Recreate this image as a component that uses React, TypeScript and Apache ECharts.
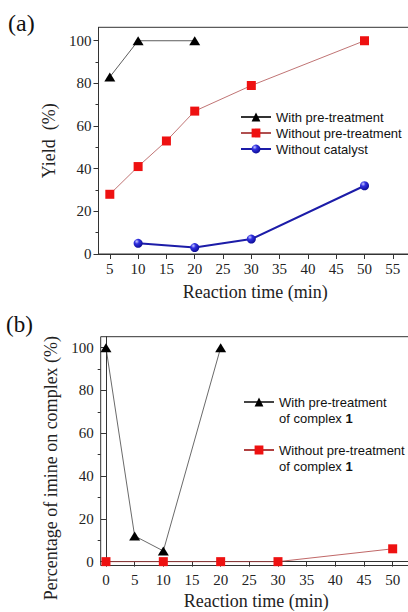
import React, { useEffect, useRef } from "react";
import * as echarts from "echarts";

// ---- Data: panel (a) ----
const aXTicks = [5, 10, 15, 20, 25, 30, 35, 40, 45, 50, 55];
const aYTicks = [0, 20, 40, 60, 80, 100];
const aYMinor = [10, 30, 50, 70, 90];
const aWithX = [5, 10, 20];
const aWithY = [83, 100, 100];
const aWithoutX = [5, 10, 15, 20, 30, 50];
const aWithoutY = [28, 41, 53, 67, 79, 100];
const aNoCatX = [10, 20, 30, 50];
const aNoCatY = [5, 3, 7, 32];

// ---- Data: panel (b) ----
const bXTicks = [0, 5, 10, 15, 20, 25, 30, 35, 40, 45, 50];
const bYTicks = [0, 20, 40, 60, 80, 100];
const bYMinor = [10, 30, 50, 70, 90];
const bWithX = [0, 5, 10, 20];
const bWithY = [100, 12, 5, 100];
const bWithoutX = [0, 10, 20, 30, 50];
const bWithoutY = [0, 0, 0, 0, 6];

const zip = (xs: number[], ys: number[]) => xs.map((x, i) => [x, ys[i]]);

const SERIF = "'Liberation Serif', 'Times New Roman', Times, serif";
const SANS = "'Liberation Sans', Arial, sans-serif";

export default function App() {
  const ref = useRef<HTMLDivElement>(null);
  useEffect(() => {
    const chart = echarts.init(ref.current!, null, { renderer: "svg" });
    const sphere = new echarts.graphic.RadialGradient(0.35, 0.3, 0.75, [
      { offset: 0, color: "#c8c8ff" },
      { offset: 0.35, color: "#3030e0" },
      { offset: 1, color: "#0a0a90" },
    ]);
    const xAxisBase = (gridIndex: number, min: number, max: number, ticks: number[], gap: number) => ({
      type: "value",
      gridIndex,
      min,
      max,
      axisLine: { show: true, lineStyle: { color: "#333", width: 1 } },
      axisTick: { show: true, length: 5, customValues: ticks, lineStyle: { color: "#333" } },
      axisLabel: {
        customValues: ticks,
        fontFamily: SERIF,
        fontSize: 15,
        color: "#222",
        margin: 7,
      },
      splitLine: { show: false },
      name: "Reaction time (min)",
      nameLocation: "middle",
      nameGap: gap,
      nameTextStyle: { fontFamily: SERIF, fontSize: 18, color: "#222" },
    });
    const yAxisBase = (gridIndex: number, min: number, max: number, ticks: number[]) => ({
      type: "value",
      gridIndex,
      min,
      max,
      axisLine: { show: true, lineStyle: { color: "#333", width: 1 } },
      axisTick: { show: true, length: 5, customValues: ticks, lineStyle: { color: "#333" } },
      axisLabel: {
        customValues: ticks,
        fontFamily: SERIF,
        fontSize: 15,
        color: "#222",
        margin: 7,
      },
      splitLine: { show: false },
    });
    const yMinorAxis = (gridIndex: number, min: number, max: number, ticks: number[]) => ({
      type: "value",
      gridIndex,
      min,
      max,
      position: "left",
      axisLine: { show: false },
      axisTick: { show: true, length: 3, customValues: ticks, lineStyle: { color: "#333" } },
      axisLabel: { show: false },
      splitLine: { show: false },
    });

    chart.setOption({
      animation: false,
      backgroundColor: "#fff",
      grid: [
        {
          left: 98.5, top: 27.3, width: 313.5, height: 226.7,
          show: true, borderColor: "#333", borderWidth: 1,
          outerBoundsMode: "none", containLabel: false,
        },
        {
          left: 100.7, top: 336.7, width: 311.3, height: 228.8,
          show: true, borderColor: "#333", borderWidth: 1,
          outerBoundsMode: "none", containLabel: false,
        },
      ],
      xAxis: [xAxisBase(0, 3, 58.39, aXTicks, 29), xAxisBase(1, -0.92, 53.37, bXTicks, 26)],
      yAxis: [
        {
          ...yAxisBase(0, 0, 106.3, aYTicks),
          name: "Yield  (%)",
          nameLocation: "middle",
          nameGap: 35,
          nameTextStyle: { fontFamily: SERIF, fontSize: 18, color: "#222" },
        },
        yMinorAxis(0, 0, 106.3, aYMinor),
        {
          ...yAxisBase(1, -1.8, 105.14, bYTicks),
          name: "Percentage of imine on complex (%)",
          nameLocation: "middle",
          nameGap: 28,
          nameTextStyle: { fontFamily: SERIF, fontSize: 18, color: "#222", padding: [0, 34, 0, 0] },
        },
        yMinorAxis(1, -1.8, 105.14, bYMinor),
      ],
      legend: [
        {
          left: 240,
          top: 109,
          orient: "vertical",
          padding: 0,
          itemGap: 0,
          itemWidth: 30,
          itemHeight: 11,
          data: ["With pre-treatment", "Without pre-treatment", "Without catalyst"],
          textStyle: { fontFamily: SANS, fontSize: 13, color: "#111", lineHeight: 16 },
        },
        {
          left: 243,
          top: 378,
          orient: "vertical",
          padding: 0,
          itemGap: 0,
          itemWidth: 30,
          itemHeight: 11,
          data: ["With pre-treatment of complex 1", "Without pre-treatment of complex 1"],
          formatter: (name: string) =>
            name.replace(" of complex 1", "") + "\nof complex {b|1}",
          textStyle: {
            fontFamily: SANS,
            fontSize: 13,
            color: "#111",
            lineHeight: 16,
            padding: [16, 0, 0, 0],
            rich: { b: { fontFamily: SANS, fontSize: 13, fontWeight: "bold", lineHeight: 16 } },
          },
        },
      ],
      graphic: [
        {
          type: "text",
          left: 8,
          top: 11,
          style: { text: "(a)", fontFamily: SERIF, fontSize: 24, fill: "#111" },
        },
        {
          type: "text",
          left: 6,
          top: 313,
          style: { text: "(b)", fontFamily: SERIF, fontSize: 23, fill: "#111" },
        },
      ],
      series: [
        {
          name: "With pre-treatment",
          type: "line",
          xAxisIndex: 0,
          yAxisIndex: 0,
          data: zip(aWithX, aWithY),
          symbol: "triangle",
          symbolSize: [11, 9],
          itemStyle: { color: "#000" },
          lineStyle: { color: "#333", width: 0.8 },
        },
        {
          name: "Without pre-treatment",
          type: "line",
          xAxisIndex: 0,
          yAxisIndex: 0,
          data: zip(aWithoutX, aWithoutY),
          symbol: "rect",
          symbolSize: 9,
          itemStyle: { color: "#ee1111" },
          lineStyle: { color: "#b05050", width: 0.8 },
        },
        {
          name: "Without catalyst",
          type: "line",
          xAxisIndex: 0,
          yAxisIndex: 0,
          data: zip(aNoCatX, aNoCatY),
          symbol: "circle",
          symbolSize: 9,
          itemStyle: { color: sphere },
          lineStyle: { color: "#1c1ca8", width: 2 },
        },
        {
          name: "With pre-treatment of complex 1",
          type: "line",
          xAxisIndex: 1,
          yAxisIndex: 2,
          data: zip(bWithX, bWithY),
          symbol: "triangle",
          symbolSize: [11, 9],
          itemStyle: { color: "#000" },
          lineStyle: { color: "#444", width: 0.8 },
        },
        {
          name: "Without pre-treatment of complex 1",
          type: "line",
          xAxisIndex: 1,
          yAxisIndex: 2,
          data: zip(bWithoutX, bWithoutY),
          symbol: "rect",
          symbolSize: 9,
          itemStyle: { color: "#ee1111" },
          lineStyle: { color: "#b04040", width: 0.8 },
        },
      ],
    });
    return () => chart.dispose();
  }, []);
  return (
    <div
      ref={ref}
      style={{ position: "fixed", left: 0, top: 0, width: 408, height: 612 }}
    />
  );
}
